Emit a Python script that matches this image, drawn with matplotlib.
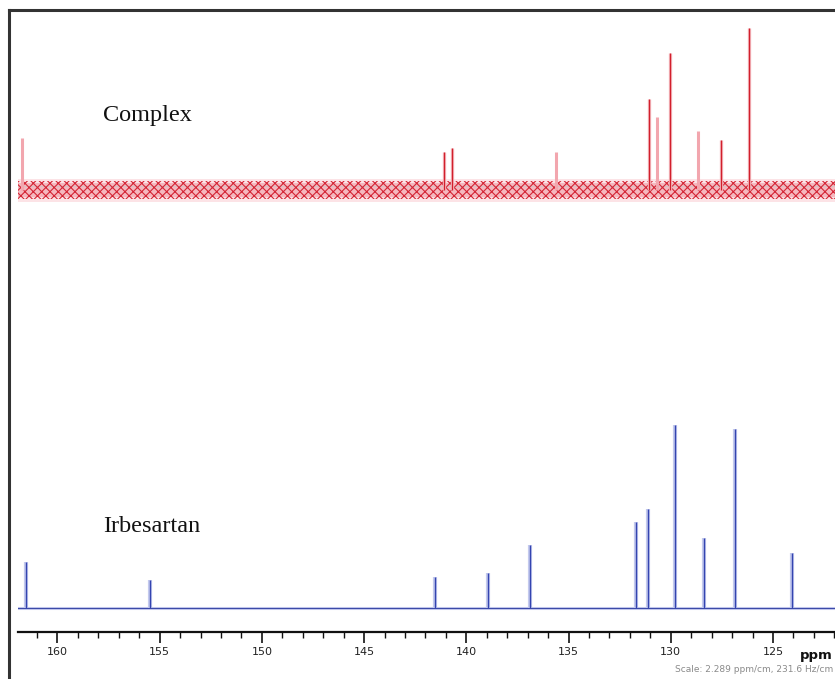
import matplotlib
matplotlib.use("Agg")
import matplotlib.pyplot as plt
from matplotlib.lines import Line2D
from matplotlib.ticker import MultipleLocator
import numpy as np

# 13C peak lists (ppm) and relative intensities
complex_ppm = [161.74, 141.09, 140.70, 135.61, 131.06, 130.67, 130.03, 128.67, 127.54, 126.17]
complex_int = [52, 38, 42, 38, 91, 73, 137, 59, 50, 162]
complex_faint = [True, False, False, True, False, True, False, True, False, False]

irb_ppm = [161.54, 155.47, 141.53, 138.94, 136.89, 131.70, 131.11, 129.79, 128.37, 126.85, 124.06]
irb_int = [46, 28, 31, 35, 63, 86, 99, 183, 70, 179, 55]

major_ticks = [160, 155, 150, 145, 140, 135, 130, 125]

W, H = 835, 679
plt.rcParams["hatch.linewidth"] = 0.8
fig = plt.figure(figsize=(W / 100, H / 100), dpi=100)
fig.patch.set_facecolor("white")

ax = fig.add_axes([18 / W, (H - 632) / H, 1 - 18 / W, (632 - 10) / H])
ax.set_xlim(161.93, 121.97)
ax.set_ylim(0, 622)

red_base = 442
blue_base = 24

# Complex spectrum: noisy baseline band
xs = np.array([161.93, 121.97])
ax.fill_between(xs, red_base - 12, red_base + 11, color="#fce3e6", lw=0, zorder=1)
ax.fill_between(xs, red_base - 7, red_base + 7, color="#f5b8bf", lw=0, zorder=1.2)
ax.fill_between(xs, red_base - 9, red_base + 9, facecolor="none", edgecolor="#d42535",
                hatch="xxxx", lw=0, zorder=2)
ax.axhline(red_base + 4, color="#c8c8c8", lw=0.5, zorder=1.5)
for p, h, faint in zip(complex_ppm, complex_int, complex_faint):
    if faint:
        ax.vlines(p, red_base, red_base + h, color="#f2a6ae", lw=2.2, zorder=3)
    else:
        ax.vlines(p, red_base, red_base + h, color="#f6c2c7", lw=2.4, zorder=3)
        ax.vlines(p, red_base, red_base + h, color="#d21f2c", lw=1.0, zorder=4)

# Irbesartan spectrum
ax.axhline(blue_base, color="#c8cdef", lw=2.2, zorder=1)
ax.axhline(blue_base, color="#3c4aa8", lw=0.8, zorder=2)
for p, h in zip(irb_ppm, irb_int):
    ax.vlines(p, blue_base, blue_base + h, color="#c4caee", lw=3.0, zorder=3)
    ax.vlines(p, blue_base, blue_base + h, color="#3444b0", lw=1.0, zorder=4)

# Axis styling
for side in ("top", "left", "right"):
    ax.spines[side].set_visible(False)
ax.spines["bottom"].set_linewidth(1.6)
ax.spines["bottom"].set_color("#111111")
ax.set_yticks([])
ax.xaxis.set_minor_locator(MultipleLocator(1))
ax.set_xticks(major_ticks)
ax.set_xticklabels([str(t) for t in major_ticks])
ax.tick_params(axis="x", which="major", length=8, width=1.2, color="#111111",
               labelsize=8, labelcolor="#222222", pad=3)
ax.tick_params(axis="x", which="minor", length=4, width=1.0, color="#111111")

# Spectrum labels
fig.text(103 / W, 1 - 115 / H, "Complex", family="Liberation Serif", fontsize=17.5,
         color="#111111", va="center", ha="left")
fig.text(103 / W, 1 - 527 / H, "Irbesartan", family="Liberation Serif", fontsize=17.5,
         color="#111111", va="center", ha="left")

fig.text(833 / W, 1 - 656 / H, "ppm", fontsize=9.5, color="#111111", ha="right",
         va="center", weight="bold")
fig.text(833 / W, 1 - 669 / H, "Scale: 2.289 ppm/cm, 231.6 Hz/cm", fontsize=6.5,
         color="#8a8a8a", ha="right", va="center")

# Outer frame
fig.add_artist(Line2D([9 / W, 9 / W], [0, 1 - 10 / H], color="#333333", lw=2.2,
                      transform=fig.transFigure))
fig.add_artist(Line2D([9 / W, 1], [1 - 10 / H, 1 - 10 / H], color="#333333", lw=2.2,
                      transform=fig.transFigure))

fig.savefig("out.png", dpi=100)
